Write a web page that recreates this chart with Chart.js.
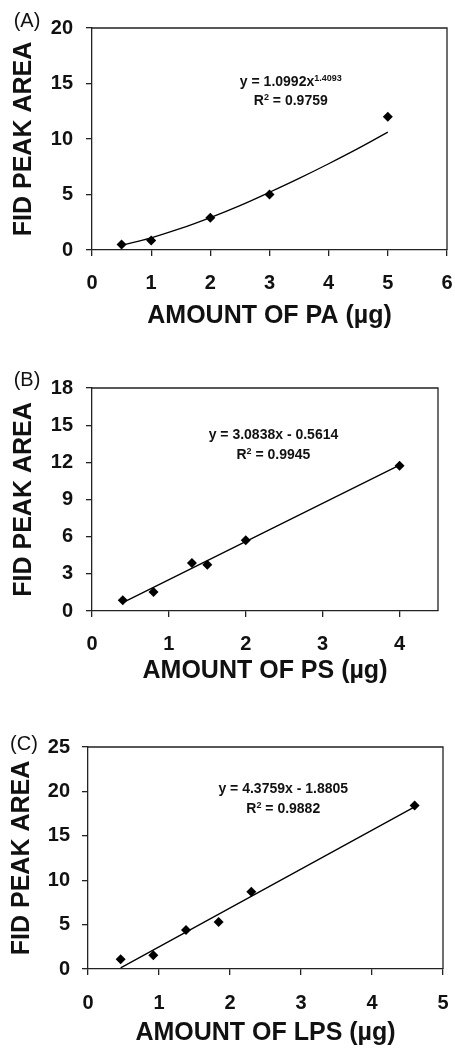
<!DOCTYPE html>
<html>
<head>
<meta charset="utf-8">
<script src="https://cdn.jsdelivr.net/npm/chart.js@4.4.1/dist/chart.umd.min.js"></script>
<style>
  html, body { margin: 0; padding: 0; background: #fff; }
  body { width: 455px; height: 1054px; position: relative; overflow: hidden; }
  canvas { position: absolute; left: 0; }
</style>
</head>
<body>
<canvas id="chartA" width="455" height="340" style="top:0px"></canvas>
<canvas id="chartB" width="455" height="355" style="top:340px"></canvas>
<canvas id="chartC" width="455" height="359" style="top:695px"></canvas>
<script>
// (A) PA - power fit
const paX = [0.5, 1, 2, 3, 5];
const paY = [0.5, 0.85, 2.9, 5.0, 12.0];
const paFitX = [0.5, 1, 1.5, 2, 2.5, 3, 3.5, 4, 4.5, 5];
const paFitY = [0.41, 1.1, 1.94, 2.92, 4.0, 5.2, 6.45, 7.77, 9.15, 10.62];
const paXTicks = [0, 1, 2, 3, 4, 5, 6];
const paYTicks = [0, 5, 10, 15, 20];

// (B) PS - linear fit
const psX = [0.4, 0.8, 1.3, 1.5, 2, 4];
const psY = [0.86, 1.53, 3.87, 3.74, 5.71, 11.73];
const psFitX = [0.4, 4];
const psFitY = [0.67, 11.77];
const psXTicks = [0, 1, 2, 3, 4];
const psYTicks = [0, 3, 6, 9, 12, 15, 18];

// (C) LPS - linear fit
const lpsX = [0.46, 0.92, 1.38, 1.84, 2.3, 4.6];
const lpsY = [1.1, 1.55, 4.4, 5.3, 8.7, 18.4];
const lpsFitX = [0.46, 4.6];
const lpsFitY = [0.13, 18.25];
const lpsXTicks = [0, 1, 2, 3, 4, 5];
const lpsYTicks = [0, 5, 10, 15, 20, 25];

const FONT = '"Liberation Sans", Arial, sans-serif';
const INK = '#111';
const AXIS = '#222';

function toPoints(xs, ys) {
  return xs.map((x, i) => ({ x: x, y: ys[i] }));
}

function drawRuns(ctx, runs, cx, cy) {
  const main = 'bold 14px ' + FONT;
  const sup = 'bold 9px ' + FONT;
  let total = 0;
  runs.forEach(r => {
    ctx.font = r[1] ? sup : main;
    total += ctx.measureText(r[0]).width;
  });
  let x = cx - total / 2;
  const base = cy + 5;
  ctx.textAlign = 'left';
  ctx.textBaseline = 'alphabetic';
  runs.forEach(r => {
    ctx.font = r[1] ? sup : main;
    ctx.fillText(r[0], x, r[1] ? base - 5 : base);
    x += ctx.measureText(r[0]).width;
  });
}

const extras = {
  id: 'extras',
  afterDraw(chart, args, opts) {
    const ctx = chart.ctx, a = chart.chartArea;
    ctx.save();
    ctx.strokeStyle = AXIS;
    ctx.lineWidth = 1.3;
    ctx.beginPath();
    ctx.moveTo(a.left, a.top);
    ctx.lineTo(a.right, a.top);
    ctx.lineTo(a.right, a.bottom);
    ctx.stroke();

    ctx.fillStyle = INK;
    ctx.font = '20px ' + FONT;
    ctx.textAlign = 'center';
    ctx.textBaseline = 'middle';
    ctx.fillText(opts.label, opts.labelX, opts.labelY);

    const xs = chart.scales.x, ys = chart.scales.y;
    opts.eq.forEach((runs, i) => {
      drawRuns(ctx, runs, xs.getPixelForValue(opts.eqX), ys.getPixelForValue(opts.eqY[i]));
    });
    ctx.restore();
  }
};

function makeChart(id, c) {
  new Chart(document.getElementById(id), {
    type: 'scatter',
    data: {
      datasets: [{
        data: toPoints(c.x, c.y),
        pointStyle: 'rectRot',
        pointRadius: 5,
        pointHoverRadius: 5,
        backgroundColor: '#000',
        borderColor: '#000',
        borderWidth: 0
      }, {
        data: toPoints(c.fitX, c.fitY),
        showLine: true,
        pointRadius: 0,
        borderColor: '#000',
        borderWidth: 1.3,
        tension: 0.4
      }]
    },
    options: {
      responsive: false,
      animation: false,
      layout: { padding: { top: c.padTop, right: c.padRight, left: 0, bottom: 0 } },
      plugins: {
        legend: { display: false },
        tooltip: { enabled: false },
        extras: { label: c.label, labelX: c.labelX, labelY: c.labelY, eq: c.eq, eqX: c.eqX, eqY: c.eqY }
      },
      scales: {
        x: {
          type: 'linear',
          min: 0,
          max: c.xMax,
          afterBuildTicks: s => { s.ticks = c.xTicks.map(v => ({ value: v })); },
          afterFit: s => { s.height = c.xHeight; s.paddingLeft = 0; s.paddingRight = 0; },
          grid: { drawOnChartArea: false, drawTicks: true, tickLength: 6, color: AXIS, lineWidth: 1.3 },
          border: { display: true, color: AXIS, width: 1.3 },
          ticks: { color: INK, font: { family: FONT, size: 20, weight: 'bold' }, padding: c.xTickPad, maxRotation: 0, autoSkip: false },
          title: { display: true, text: c.xTitle, color: INK, font: { family: FONT, size: 25, weight: 'bold' }, padding: { top: 0, bottom: c.xTitlePad } }
        },
        y: {
          type: 'linear',
          min: 0,
          max: c.yMax,
          afterBuildTicks: s => { s.ticks = c.yTicks.map(v => ({ value: v })); },
          afterFit: s => { s.width = c.yWidth; s.paddingTop = 0; s.paddingBottom = 0; },
          grid: { drawOnChartArea: false, drawTicks: true, tickLength: 6, color: AXIS, lineWidth: 1.3 },
          border: { display: true, color: AXIS, width: 1.3 },
          ticks: { color: INK, font: { family: FONT, size: 20, weight: 'bold' }, padding: c.yTickPad, autoSkip: false },
          title: { display: true, text: 'FID PEAK AREA', color: INK, font: { family: FONT, size: 25, weight: 'bold' }, padding: { top: c.yTitlePad, bottom: 0 } }
        }
      }
    },
    plugins: [extras]
  });
}

makeChart('chartA', {
  x: paX, y: paY, fitX: paFitX, fitY: paFitY,
  xMax: 6, xTicks: paXTicks, yMax: 20, yTicks: paYTicks,
  xTitle: 'AMOUNT OF PA (µg)',
  padTop: 28, padRight: 8, xHeight: 90, yWidth: 92,
  xTickPad: 15, yTickPad: 13, xTitlePad: 9, yTitlePad: 9,
  label: '(A)', labelX: 27, labelY: 21,
  eq: [[['y = 1.0992x', false], ['1.4093', true]], [['R', false], ['2', true], [' = 0.9759', false]]],
  eqX: 3.36, eqY: [15.2, 13.5]
});

makeChart('chartB', {
  x: psX, y: psY, fitX: psFitX, fitY: psFitY,
  xMax: 4.5, xTicks: psXTicks, yMax: 18, yTicks: psYTicks,
  xTitle: 'AMOUNT OF PS (µg)',
  padTop: 48, padRight: 17, xHeight: 84, yWidth: 92,
  xTickPad: 15, yTickPad: 13, xTitlePad: 9, yTitlePad: 9,
  label: '(B)', labelX: 27, labelY: 40,
  eq: [[['y = 3.0838x - 0.5614', false]], [['R', false], ['2', true], [' = 0.9945', false]]],
  eqX: 2.36, eqY: [14.26, 12.65]
});

makeChart('chartC', {
  x: lpsX, y: lpsY, fitX: lpsFitX, fitY: lpsFitY,
  xMax: 5, xTicks: lpsXTicks, yMax: 25, yTicks: lpsYTicks,
  xTitle: 'AMOUNT OF LPS (µg)',
  padTop: 52, padRight: 12, xHeight: 85, yWidth: 88,
  xTickPad: 16, yTickPad: 12, xTitlePad: 6, yTitlePad: 7,
  label: '(C)', labelX: 24, labelY: 49,
  eq: [[['y = 4.3759x - 1.8805', false]], [['R', false], ['2', true], [' = 0.9882', false]]],
  eqX: 2.75, eqY: [20.37, 18.1]
});
</script>
</body>
</html>
